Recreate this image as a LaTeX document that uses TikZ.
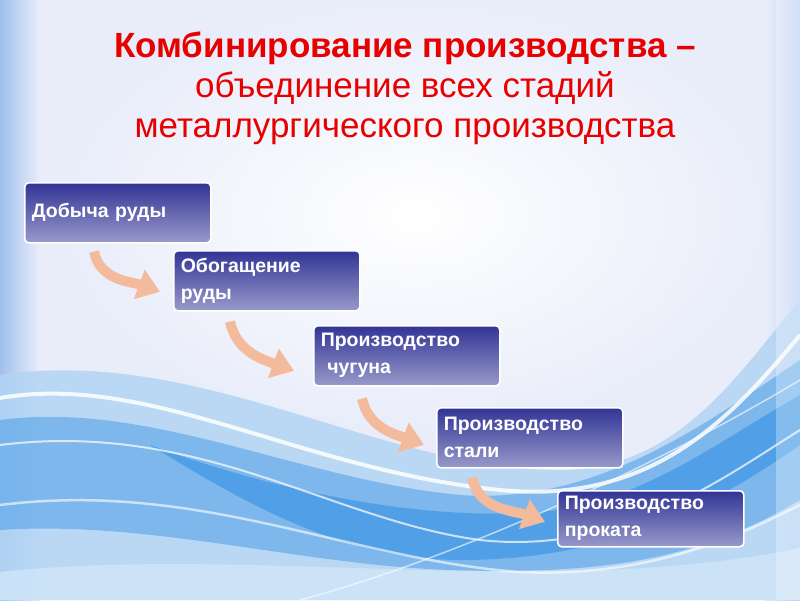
\documentclass[tikz,border=0pt]{standalone}
\usepackage{fontspec}
\setmainfont{Liberation Sans}
\usetikzlibrary{arrows.meta, positioning}

\definecolor{titlered}{RGB}{232,0,0}
\definecolor{boxtop}{RGB}{50,52,150}
\definecolor{boxbot}{RGB}{152,154,202}
\definecolor{flowcol}{RGB}{244,186,156}
\definecolor{bgbase}{RGB}{233,237,250}
\definecolor{edgeblue}{RGB}{160,192,236}
\definecolor{waveA}{RGB}{178,212,244}
\definecolor{waveB}{RGB}{52,146,228}
\definecolor{waveC}{RGB}{205,228,248}

\begin{document}
\begin{tikzpicture}[x=1pt, y=-1pt,
    stage/.style={draw=white, line width=1.6pt, rounded corners=4pt,
      top color=boxtop, bottom color=boxbot, text=white, anchor=north west,
      font=\bfseries\fontsize{19.5}{27}\selectfont, align=left,
      text width=172pt, inner xsep=7pt, minimum height=60pt},
    flow/.style={draw=flowcol, line width=10pt,
      -{Triangle[length=22pt, width=30pt]}}]
      \useasboundingbox (0,0) rectangle (800,600);

      % Background of the slide
      \fill[bgbase] (0,0) rectangle (800,600);
      \shade[inner color=white, outer color=bgbase] (60,0) rectangle (770,430);
      \shade[left color=edgeblue, right color=bgbase] (0,0) rectangle (40,600);
      \shade[left color=bgbase, right color=edgeblue!70] (765,0) rectangle (800,600);

      % Waves in the lower half
      \fill[waveA, opacity=.85] (0,375) .. controls (200,345) and (380,470) .. (560,470)
        .. controls (680,470) and (740,370) .. (800,300) -- (800,600) -- (0,600) -- cycle;
      \fill[waveB, opacity=.45] (0,420) .. controls (150,400) and (300,480) .. (460,495)
        .. controls (600,505) and (710,420) .. (800,360) -- (800,500)
        .. controls (700,560) and (600,575) .. (450,570)
        .. controls (300,565) and (150,520) .. (0,530) -- cycle;
      \fill[waveB, opacity=.6] (150,445) .. controls (300,500) and (440,520) .. (540,512)
        .. controls (640,504) and (720,440) .. (800,395) -- (800,445)
        .. controls (700,515) and (600,560) .. (460,560)
        .. controls (340,560) and (240,500) .. (150,445) -- cycle;
      \fill[waveC, opacity=.9] (0,572) .. controls (250,545) and (550,600) .. (800,548)
        -- (800,600) -- (0,600) -- cycle;

      % White streaks
      \draw[white, line width=4pt, opacity=.85] (0,398) .. controls (150,372) and (300,470)
        .. (500,490) .. controls (650,505) and (730,420) .. (800,335);
      \draw[white, line width=2pt, opacity=.7] (0,445) .. controls (200,420) and (330,520)
        .. (480,540) .. controls (620,555) and (720,480) .. (800,430);
      \draw[white, line width=2.5pt, opacity=.6] (0,505) .. controls (200,480) and (350,560)
        .. (520,572) .. controls (650,578) and (740,535) .. (800,505);
      \draw[white, line width=1.5pt, opacity=.6] (300,600) .. controls (450,560) and (650,470)
        .. (800,380);
      \fill[white, opacity=.3] (776,0) rectangle (800,600);

      % Title
      \node[text=titlered, align=center, font=\fontsize{35}{40}\selectfont] (head) at (405,88)
        {\textbf{Комбинирование производства –}\\объединение всех стадий\\металлургического производства};

      % Stages
      \node[stage] (d1) at (24,182) {Добыча руды};
      \node[stage] (d2) at (173,250) {Обогащение\\руды};
      \node[stage] (d3) at (313,325) {Производство\\~чугуна};
      \node[stage] (d4) at (436,407) {Производство\\стали};
      \node[stage, minimum height=56pt] (d5) at (557,490) {Производство\\проката};

      % Curved arrows between stages
      \draw[flow] ([xshift=70pt, yshift=-8pt]d1.south west) to[out=-78, in=160]
        ([xshift=-13pt, yshift=-11pt]d2.west);
      \draw[flow] ([xshift=57pt, yshift=-10pt]d2.south west) to[out=-78, in=160]
        ([xshift=-19pt, yshift=-15pt]d3.west);
      \draw[flow] ([xshift=49pt, yshift=-12pt]d3.south west) to[out=-78, in=160]
        ([xshift=-12pt, yshift=-7pt]d4.west);
      \draw[flow] ([xshift=36pt, yshift=-9pt]d4.south west) to[out=-78, in=160]
        ([xshift=-12pt, yshift=-3pt]d5.west);
    \end{tikzpicture}
\end{document}
